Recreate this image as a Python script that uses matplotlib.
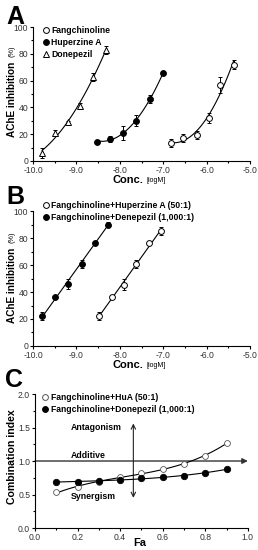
import numpy as np
import matplotlib
matplotlib.use("Agg")
import matplotlib.pyplot as plt
from matplotlib.ticker import MultipleLocator
from matplotlib.lines import Line2D

plt.rcParams['font.family'] = ['Liberation Sans', 'DejaVu Sans']

# panel A: single drugs
don_x = [-9.79, -9.50, -9.19, -8.92, -8.62, -8.32]
don_y = [6, 21, 29, 41, 63, 83]
don_e = [4, 2, 1, 2, 3, 3]
hup_x = [-8.52, -8.22, -7.92, -7.62, -7.31, -7.00]
hup_y = [14.5, 16.5, 21, 30, 46, 66]
hup_e = [1, 2, 5, 4, 3, 1]
fan_x = [-6.81, -6.54, -6.23, -5.95, -5.68, -5.38]
fan_y = [13.6, 17, 19.5, 32, 56.6, 72]
fan_e = [3, 3, 3, 4, 6, 3]

# panel B: combinations
cdon_x = [-9.79, -9.50, -9.19, -8.88, -8.58, -8.28]
cdon_y = [22, 36, 46, 61, 76.5, 90]
cdon_e = [3, 1, 4, 3, 1, 2]
chup_x = [-8.48, -8.19, -7.90, -7.62, -7.32, -7.04]
chup_y = [22, 36, 45.5, 61, 76.5, 85.5]
chup_e = [3, 1, 4, 3, 1, 3]

# panel C: combination index
fa = [0.1, 0.2, 0.3, 0.4, 0.5, 0.6, 0.7, 0.8, 0.9]
ci_hua = [0.53, 0.61, 0.69, 0.76, 0.82, 0.88, 0.95, 1.08, 1.27]
ci_don = [0.69, 0.69, 0.70, 0.72, 0.74, 0.76, 0.78, 0.82, 0.88]

fig = plt.figure(figsize=(2.58, 5.5), dpi=100)

tick_fs = 6.2
leg_fs = 6.2
lab_fs = 7.2


def style(ax):
    ax.spines['top'].set_visible(False)
    ax.spines['right'].set_visible(False)
    ax.tick_params(direction='out', length=2.5, width=0.8, labelsize=tick_fs, pad=1,
                   labelcolor='#333333')
    ax.tick_params(which='minor', direction='out', length=1.5, width=0.8)


def fitline(ax, x, y, deg):
    p = np.polyfit(x, y, deg)
    xs = np.linspace(min(x), max(x), 100)
    ax.plot(xs, np.polyval(p, xs), color='k', lw=0.8, zorder=1)


def pts(ax, x, y, e, marker, fc):
    ax.errorbar(x, y, yerr=e, fmt=marker, ms=4.2, mfc=fc, mec='k', mew=0.7,
                ecolor='k', elinewidth=0.7, capsize=1.5, capthick=0.7,
                zorder=3, lw=0)


def handle(marker, fc, label, mec='k'):
    return Line2D([], [], ls='none', marker=marker, ms=4.2, mfc=fc, mec=mec,
                  mew=0.7, label=label)


def legend(ax, handles, x, y):
    ax.legend(handles=handles, loc='upper left', bbox_to_anchor=(x, y), frameon=False,
              prop={'size': leg_fs, 'weight': 'bold'}, handlelength=0.6,
              handletextpad=0.35, borderaxespad=0, labelspacing=0.35)


def conc_axis(ax, ylab_y, pct_y):
    ax.set_xlim(-10, -5)
    ax.set_ylim(0, 100)
    ax.xaxis.set_major_locator(MultipleLocator(1))
    ax.xaxis.set_minor_locator(MultipleLocator(0.5))
    ax.yaxis.set_major_locator(MultipleLocator(20))
    ax.yaxis.set_minor_locator(MultipleLocator(10))
    ax.set_xticks(ax.get_xticks())
    ax.set_xticklabels([f'{v:.1f}' for v in ax.get_xticks()])
    ax.set_xlim(-10, -5)
    ax.text(0.507, -0.14, 'Conc.', transform=ax.transAxes, ha='right', va='center',
            fontsize=8, fontweight='bold')
    ax.text(0.525, -0.145, '[logM]', transform=ax.transAxes, ha='left', va='center',
            fontsize=5)
    ax.text(-0.097, ylab_y, 'AChE inhibition', transform=ax.transAxes, rotation=90,
            ha='center', va='center', fontsize=lab_fs, fontweight='bold')
    ax.text(-0.097, pct_y, '(%)', transform=ax.transAxes, rotation=90,
            ha='center', va='bottom', fontsize=5.3)


# ---- A
axA = fig.add_axes([0.128, 0.7073, 0.841, 0.2436])
style(axA)
fitline(axA, don_x, don_y, 2)
fitline(axA, hup_x, hup_y, 2)
fitline(axA, fan_x, fan_y, 2)
pts(axA, fan_x, fan_y, fan_e, 'o', 'white')
pts(axA, hup_x, hup_y, hup_e, 'o', 'black')
pts(axA, don_x, don_y, don_e, '^', 'white')
conc_axis(axA, 0.46, 0.775)
legend(axA, [handle('o', 'white', 'Fangchinoline'),
             handle('o', 'black', 'Huperzine A'),
             handle('^', 'white', 'Donepezil')], 0.03, 1.03)
fig.text(0.025, 1 - 24 / 550, 'A', fontsize=18, fontweight='bold', va='baseline')

# ---- B
axB = fig.add_axes([0.128, 0.371, 0.841, 0.245])
style(axB)
fitline(axB, cdon_x, cdon_y, 1)
fitline(axB, chup_x, chup_y, 1)
pts(axB, chup_x, chup_y, chup_e, 'o', 'white')
pts(axB, cdon_x, cdon_y, cdon_e, 'o', 'black')
conc_axis(axB, 0.45, 0.765)
legend(axB, [handle('o', 'white', 'Fangchinoline+Huperzine A (50:1)'),
             handle('o', 'black', 'Fangchinoline+Denepezil (1,000:1)')], 0.03, 1.10)
fig.text(0.025, 1 - 204 / 550, 'B', fontsize=18, fontweight='bold', va='baseline')

# ---- C
axC = fig.add_axes([0.1357, 0.04, 0.825, 0.2436])
style(axC)
axC.set_xlim(0, 1)
axC.set_ylim(0, 2)
axC.xaxis.set_major_locator(MultipleLocator(0.2))
axC.xaxis.set_minor_locator(MultipleLocator(0.1))
axC.yaxis.set_major_locator(MultipleLocator(0.5))
axC.yaxis.set_minor_locator(MultipleLocator(0.25))
axC.set_xticks(axC.get_xticks())
axC.set_xticklabels([f'{v:.1f}' for v in axC.get_xticks()])
axC.set_yticks(axC.get_yticks())
axC.set_yticklabels([f'{v:.1f}' for v in axC.get_yticks()])
axC.set_xlim(0, 1)
axC.set_ylim(0, 2)
axC.annotate('', xy=(1.0, 1.0), xytext=(0.0, 1.0),
             arrowprops=dict(arrowstyle='-|>', color='#333333', lw=1.0,
                             mutation_scale=8, shrinkA=0, shrinkB=0), zorder=0)
axC.annotate('', xy=(0.462, 1.56), xytext=(0.462, 0.45),
             arrowprops=dict(arrowstyle='<->', color='#222222', lw=0.8,
                             mutation_scale=8, shrinkA=0, shrinkB=0), zorder=0)
fitline(axC, fa, ci_hua, 3)
fitline(axC, fa, ci_don, 3)
axC.plot(fa, ci_hua, 'o', ms=4.2, mfc='white', mec='#555555', mew=0.6, zorder=3)
axC.plot(fa, ci_don, 'o', ms=4.6, mfc='black', mec='black', mew=0.6, zorder=3)
axC.text(0.17, 1.5, 'Antagonism', fontsize=6.3, fontweight='bold', va='center')
axC.text(0.17, 1.08, 'Additive', fontsize=6.3, fontweight='bold', va='center')
axC.text(0.17, 0.47, 'Synergism', fontsize=6.3, fontweight='bold', va='center')
axC.text(0.49, -0.115, 'Fa', transform=axC.transAxes, ha='center', va='center',
         fontsize=8, fontweight='bold')
axC.text(-0.108, 0.53, 'Combination index', transform=axC.transAxes, rotation=90,
         ha='center', va='center', fontsize=7.6, fontweight='bold')
legend(axC, [handle('o', 'white', 'Fangchinoline+HuA (50:1)', mec='#555555'),
             handle('o', 'black', 'Fangchinoline+Donepezil (1,000:1)')], 0.02, 1.03)
fig.text(0.02, 1 - 387 / 550, 'C', fontsize=18, fontweight='bold', va='baseline')

fig.savefig('out.png', dpi=100)
